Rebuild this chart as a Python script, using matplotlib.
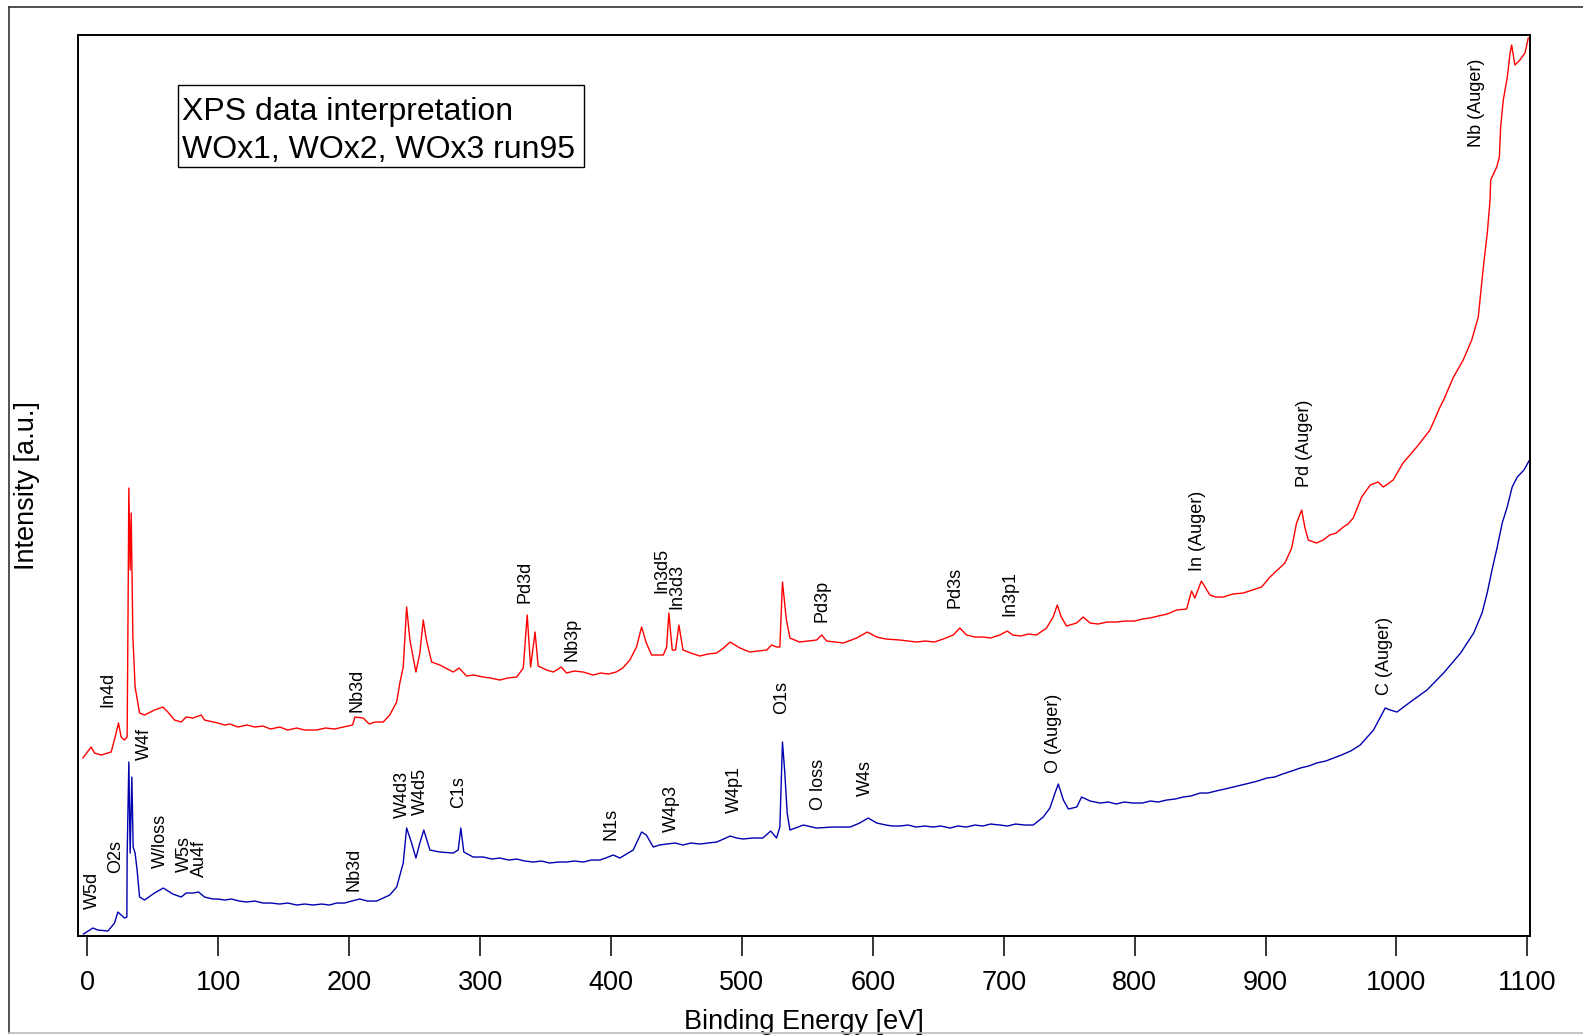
'''Survey XPS spectra of WOx1, WOx2, WOx3 (run95) with peak assignments'''
import matplotlib
matplotlib.use('Agg')
import matplotlib.pyplot as plt
from matplotlib.lines import Line2D
from matplotlib.patches import Rectangle

plt.rcParams['font.family'] = ['Liberation Sans', 'DejaVu Sans']

# Upper (red) spectrum: binding energy [eV] and intensity [a.u.]
red_energy = [-3.4, 2.9, 5.5, 10.6, 18.2, 22.0, 23.8, 25.8, 28.4, 30.4, 31.0, 31.7, 32.7, 33.5,
              34.8, 36.5, 39.9, 43.7, 51.3, 57.7, 61.5, 66.6, 71.7, 75.5, 80.6, 87.0, 89.5,
              99.7, 105, 109, 115, 122, 128, 134, 140, 147, 153, 160, 166, 175, 182, 189,
              195.5, 202.6, 204.4, 210.7, 215.3, 220, 226, 231, 236.3,
              238.7, 241.3, 243.9, 246.4, 251, 254, 256.6, 259, 263, 269.3, 279.5, 284,
              289.7, 295, 302.4, 308, 315, 321, 328, 333, 336, 338.6, 342, 344.4, 350.8,
              356, 362, 366, 372, 378.8, 386.4, 392, 398, 404, 409, 414.4, 419.5, 423.4,
              427, 431, 440, 442.5, 444.2, 446.8, 449.3, 451.9, 455, 461, 468, 474, 480.7,
              486, 491, 498.5, 506, 512, 519, 522.7, 526.5, 529, 531, 534,
              536.7, 544, 557, 561, 564.7, 577.5, 587.7, 595.8, 603, 610, 620.7, 627,
              633.5, 640, 647, 653.8, 661.4, 666.5, 671.6, 678, 684.3, 690, 697, 702.7,
              707, 713, 719, 725, 732.7, 737.8, 740.9, 744, 748, 755.6, 760.7, 766, 772,
              779, 786, 793, 800, 806, 811.7, 818, 825, 832, 839.7, 843.5, 846, 851, 857.5,
              862, 867.6, 875, 883, 890, 897, 903.4, 914.8, 920, 923.7, 927.6, 930, 932.6,
              939, 944, 949, 954, 959.4, 963, 967, 973.4, 980, 986, 990, 997.5, 1005,
              1015.5, 1025.6, 1033.3, 1036, 1043.6, 1051, 1057.5, 1062.5, 1066.4, 1069.4,
              1071.5, 1072, 1076.6, 1078.6, 1079.6, 1081.6, 1084.7, 1086.8, 1088, 1090.5,
              1094.3, 1098.2, 1100.7]
red_intensity = [178, 189, 183, 181, 184, 203, 213, 199, 196, 199, 306, 448, 366, 423,
                 299, 249, 223, 221, 226, 229, 224, 216, 214, 219, 218, 221, 216,
                 213, 211, 212, 209, 211, 209, 210, 207, 209, 206, 208, 206, 206, 208, 207,
                 209, 211, 219, 218, 212, 214, 214, 221, 234,
                 253, 269, 329, 296, 264, 283, 316, 296, 274, 271, 264, 268,
                 260, 261, 259, 258, 256, 258, 259, 268, 321, 269, 304, 270, 266,
                 264, 269, 263, 265, 264, 261, 263, 262, 264, 268, 276, 289, 309,
                 293, 281, 281, 289, 323, 286, 286, 311, 286, 283, 280, 282, 283,
                 288, 294, 288, 284, 285, 286, 291, 289, 289, 354, 316,
                 298, 294, 296, 301, 295, 293, 298, 304, 299, 297, 296, 295,
                 294, 295, 294, 297, 301, 308, 301, 299, 299, 298, 301, 305,
                 301, 300, 302, 301, 308, 319, 331, 319, 310, 313, 319, 313, 312,
                 314, 314, 315, 315, 317, 318, 320, 322, 326, 327, 345, 338, 355, 341,
                 339, 339, 342, 343, 346, 349, 359, 373, 388, 413, 426, 409, 396,
                 393, 396, 401, 403, 409, 412, 418, 439, 451, 454, 449, 456, 473,
                 489, 506, 529, 536, 559, 576, 596, 619, 669, 703,
                 736, 756, 769, 779, 809, 836, 859, 883, 891, 871,
                 876, 883, 898]

# Lower (blue) spectrum
blue_energy = [-3.0, 4.2, 8, 15.7, 20.8, 23.3, 25.8, 28.4, 30.2, 30.4, 31.7, 32.7, 34, 35,
               36.5, 38, 39.9, 43.7, 51.3, 58, 65.3, 71.7, 75.5, 80.6, 85, 89.5, 96,
               99.7, 105, 110, 116, 121.6, 128, 134, 140, 147, 153, 160, 166, 172.5, 179,
               185, 190.4, 196.5, 202, 208, 214, 221, 226, 231, 236.3, 241.3, 243.9, 247.7,
               251, 254, 257, 261.7, 269.3, 279.5, 283.3, 285.3, 287.6, 294.7, 302.4, 309,
               315, 322, 328, 334, 340.6, 347, 353, 360, 366, 372, 379, 385, 391.5, 396,
               401.7, 406.8, 417, 423.4, 427, 432.3, 437, 442.5, 449, 455, 461, 468, 474,
               480.7, 486, 491, 496, 501, 508, 516, 522, 526.5, 529, 531, 532.8, 534.6,
               536.7, 547, 557, 569.7, 582.7, 590, 596.5, 603, 610, 615, 620.7, 627, 633,
               640, 646, 652, 659, 665, 671.6, 678, 684, 690, 697, 703, 709, 716, 722.6,
               730.2, 735.3, 739.2, 741.7, 745.6, 749.4, 755.8, 759.5, 766, 773.6, 780, 786,
               792, 799, 806, 812, 818, 824.5, 831, 837, 843, 850, 856, 862, 869, 875.4,
               882, 888, 894, 901, 907, 913, 920, 926.5, 933, 939, 946, 952, 958, 965,
               972.3, 982.5, 991.4, 995.3, 1000.4, 1010.6, 1023.3, 1036, 1049, 1059, 1065.4,
               1069.3, 1073, 1077, 1080.8, 1084.6, 1088.4, 1092.3, 1097.4, 1102.5]
blue_intensity = [2, 8, 6, 5, 13, 24, 21, 18, 19, 79, 174, 83, 159, 89,
                  83, 66, 39, 36, 43, 48, 42, 39, 43, 43, 44, 39, 37,
                  37, 36, 37, 35, 34, 35, 33, 33, 32, 33, 31, 32, 31, 32,
                  31, 33, 33, 35, 37, 35, 35, 38, 41, 49, 73, 108, 93,
                  78, 93, 106, 86, 84, 83, 86, 108, 84, 79, 79, 77,
                  78, 76, 77, 75, 74, 75, 73, 74, 74, 75, 74, 76, 76, 78,
                  81, 78, 86, 104, 101, 89, 91, 92, 93, 91, 93, 92, 93,
                  94, 97, 100, 98, 97, 98, 98, 105, 98, 109, 194, 163, 123,
                  106, 111, 108, 109, 109, 113, 118, 113, 111, 110, 110, 111, 109,
                  110, 109, 110, 108, 110, 109, 111, 110, 112, 111, 110, 112, 111, 111,
                  119, 128, 143, 152, 136, 127, 129, 139, 135, 133, 134, 132,
                  134, 133, 133, 135, 134, 136, 137, 139, 140, 143, 143, 145, 147, 149,
                  151, 153, 155, 158, 159, 162, 165, 168, 170, 173, 175, 178, 181, 185,
                  191, 206, 228, 226, 224, 234, 246, 263, 283, 303, 323,
                  343, 366, 389, 413, 429, 449, 459, 466, 478]

# Peak assignments: label text, energy of label centre, intensity at label foot
peak_names = ['In4d', 'W4f', 'W5d', 'O2s', 'W/loss', 'W5s', 'Au4f', 'Nb3d', 'Nb3d',
              'W4d3', 'W4d5', 'C1s', 'Pd3d', 'Nb3p', 'In3d5', 'In3d3', 'O1s', 'N1s',
              'W4p3', 'W4p1', 'Pd3p', 'Pd3s', 'In3p1', 'In (Auger)', 'O loss', 'W4s',
              'O (Auger)', 'Pd (Auger)', 'C (Auger)', 'Nb (Auger)']
peak_energy = [16, 43.7, 3.7, 21.8, 55.6, 74.5, 86, 206.1, 203.6,
               240.5, 254.5, 284, 334.2, 370.3, 438.9, 450.6, 530.3, 399.7,
               446.5, 494.4, 561, 662.7, 704.7, 848.1, 558.3, 594.7,
               738.2, 929.4, 990.5, 1060.8]
peak_height = [229, 176, 27, 63, 68, 64, 59, 224, 45,
               118, 121, 128, 333, 275, 343, 327, 222, 96,
               104, 123, 314, 328, 320, 365, 126, 140,
               163, 449, 241, 789]

x_ticks = list(range(0, 1101, 100))

fig = plt.figure(figsize=(15.83, 10.36), dpi=100)
ax = fig.add_axes([0.0493, 0.0965, 0.9172, 0.8697])

ax.plot(red_energy, red_intensity, color='#ff0000', linewidth=1.0)
ax.plot(blue_energy, blue_intensity, color='#0000b0', linewidth=1.0)

for name, energy, height in zip(peak_names, peak_energy, peak_height):
    ax.text(energy, height, name, rotation=90, ha='center', va='bottom', fontsize=13)

ax.set_xlim(-7.1, 1102)
ax.set_ylim(0, 901)
ax.set_xticks(x_ticks)
ax.set_yticks([])
ax.tick_params(axis='x', direction='out', length=14.4, width=1.1, pad=10, labelsize=19.5)
for spine in ax.spines.values():
    spine.set_linewidth(1.4)

ax.set_xlabel('Binding Energy [eV]', fontsize=19.5)
ax.xaxis.set_label_coords(0.5, -0.081)
ax.set_ylabel('Intensity [a.u.]', fontsize=19.5)
ax.yaxis.set_label_coords(-0.026, 0.5)

# Title box in the upper left
ax.add_patch(Rectangle((0.0689, 0.8535), 0.2796, 0.091, transform=ax.transAxes,
                       facecolor='white', edgecolor='black', linewidth=1.0))
ax.text(0.0716, 0.9312, 'XPS data interpretation\nWOx1, WOx2, WOx3 run95',
        transform=ax.transAxes, ha='left', va='top', fontsize=23, linespacing=1.33)

# Outer frame round the whole figure
fig.add_artist(Line2D([0.0057, 1.0], [0.9932, 0.9932], transform=fig.transFigure,
                      color='#333333', linewidth=1.2))
fig.add_artist(Line2D([0.0057, 0.0057], [0.0029, 0.9932], transform=fig.transFigure,
                      color='#333333', linewidth=1.2))
fig.add_artist(Line2D([0.0057, 1.0], [0.0029, 0.0029], transform=fig.transFigure,
                      color='#bbbbbb', linewidth=1.2))

fig.savefig('out.png', dpi=100)
